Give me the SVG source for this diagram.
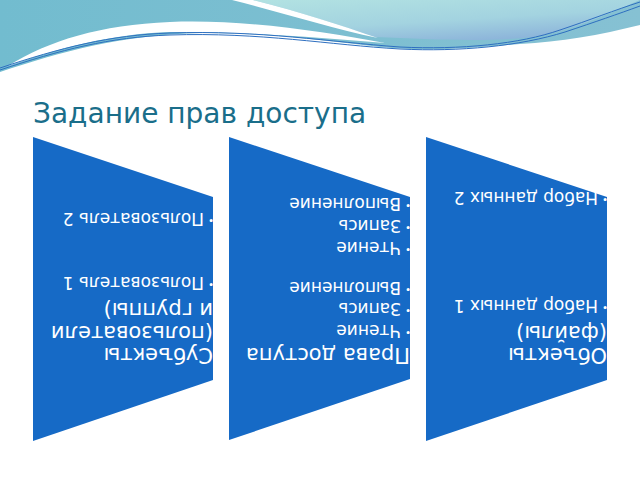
<svg xmlns="http://www.w3.org/2000/svg" width="640" height="480" viewBox="0 0 640 480">
<defs>
<linearGradient id="teal" x1="0" y1="0" x2="1" y2="0">
<stop offset="0" stop-color="#72BCCF"/>
<stop offset="1" stop-color="#86C1D3"/>
</linearGradient>
<linearGradient id="cyan" x1="0" y1="0" x2="0.6" y2="1">
<stop offset="0" stop-color="#B2E2E2"/>
<stop offset="0.6" stop-color="#A3D3E0"/>
<stop offset="1" stop-color="#8DB5DA"/>
</linearGradient>
<style>
.shape{fill:#166AC6;}
.t{font-family:"DejaVu Sans",sans-serif;fill:#FFFFFF;}
.h{font-size:21px;}
.i{font-size:17px;}
.b{font-size:10px;}
.title{font-family:"DejaVu Sans",sans-serif;font-size:28px;fill:#1A6E8A;}
.line{fill:none;stroke:#2E6FC0;stroke-width:1;}
</style>
</defs>
<rect width="640" height="480" fill="#FFFFFF"/>
<g id="header">
<path d="M0,0 H640 V25 C600,35 560,42 520,44 C470,48 430,52 380,47 C320,40 260,32 200,33 C120,35 60,52 0,72 Z" fill="url(#teal)"/>
<path d="M253,0 H640 C600,18 570,30 540,36 C500,42 440,40 375,37 C340,25 300,12 253,0 Z" fill="url(#cyan)"/>
<path d="M232,0 H253 C300,12 340,25 378,38 C330,28 280,12 232,0 Z" fill="#FFFFFF"/>
<path d="M8,66 C50,40 100,25 170,22 C240,19 320,31 385,43 C320,38 240,31 170,32 C110,34 60,48 8,66 Z" fill="#FFFFFF"/>
<path class="line" d="M0,68 C60,48 110,35 170,33 C260,30 330,42 400,47 C460,50 520,44 560,30 C590,20 615,10 640,2"/>
<path class="line" d="M0,70 C60,50 110,37 170,35 C260,32 330,45 400,49 C460,52 520,46 565,32 C595,22 618,14 640,6" stroke="#4FB0D0"/>
</g>
<text class="title" x="33" y="123">Задание прав доступа</text>
<g id="connectors"></g>
<g id="node-subjects">
<polygon class="shape" points="33,137 213,197 213,380 33,441"/>
<text class="t h" transform="translate(213,348) rotate(180)">Субъекты</text>
<text class="t h" transform="translate(213,326) rotate(180)">(пользователи</text>
<text class="t h" transform="translate(213,303) rotate(180)">и группы)</text>
<text class="t b" transform="translate(214,281) rotate(180)">•</text>
<text class="t i" transform="translate(204,277) rotate(180)">Пользователь 1</text>
<text class="t b" transform="translate(214,217) rotate(180)">•</text>
<text class="t i" transform="translate(204,213) rotate(180)">Пользователь 2</text>
</g>
<g id="node-rights">
<polygon class="shape" points="229,137 410,197 410,379 229,440"/>
<text class="t h" transform="translate(410,348) rotate(180)">Права доступа</text>
<text class="t b" transform="translate(411,329) rotate(180)">•</text>
<text class="t i" transform="translate(401,325) rotate(180)">Чтение</text>
<text class="t b" transform="translate(411,307) rotate(180)">•</text>
<text class="t i" transform="translate(401,303) rotate(180)">Запись</text>
<text class="t b" transform="translate(411,286) rotate(180)">•</text>
<text class="t i" transform="translate(401,282) rotate(180)">Выполнение</text>
<text class="t b" transform="translate(411,246) rotate(180)">•</text>
<text class="t i" transform="translate(401,242) rotate(180)">Чтение</text>
<text class="t b" transform="translate(411,224) rotate(180)">•</text>
<text class="t i" transform="translate(401,220) rotate(180)">Запись</text>
<text class="t b" transform="translate(411,202) rotate(180)">•</text>
<text class="t i" transform="translate(401,198) rotate(180)">Выполнение</text>
</g>
<g id="node-objects">
<polygon class="shape" points="426,137 607,197 607,380 426,441"/>
<text class="t h" transform="translate(607,348) rotate(180)">Объекты</text>
<text class="t h" transform="translate(607,326) rotate(180)">(файлы)</text>
<text class="t b" transform="translate(608,304) rotate(180)">•</text>
<text class="t i" transform="translate(598,300) rotate(180)">Набор данных 1</text>
<text class="t b" transform="translate(608,196) rotate(180)">•</text>
<text class="t i" transform="translate(598,192) rotate(180)">Набор данных 2</text>
</g>
</svg>
